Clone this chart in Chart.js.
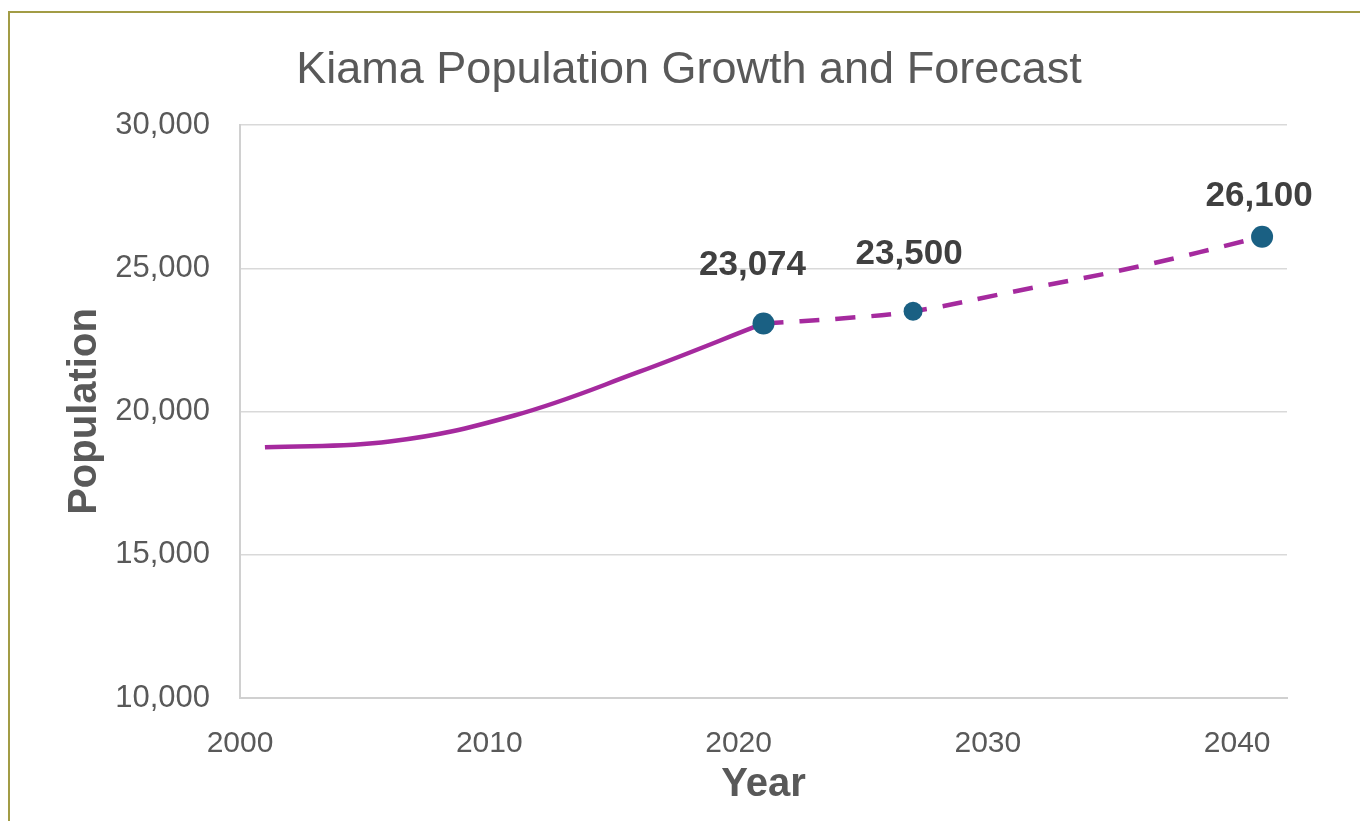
<!DOCTYPE html>
<html>
<head>
<meta charset="utf-8">
<script src="https://cdn.jsdelivr.net/npm/chart.js@4.4.0/dist/chart.umd.min.js"></script>
<style>
  html, body { margin: 0; padding: 0; background: #fff; overflow: hidden; }
  body { width: 1360px; height: 821px; position: relative; }
  #frame { position: absolute; left: 8px; top: 11px; width: 1400px; height: 900px;
           border-top: 2px solid #a29c45; border-left: 2px solid #a29c45; }
  #wrap { position: absolute; left: 10px; top: 13px; width: 1360px; height: 821px; }
</style>
</head>
<body>
<div id="frame"></div>
<div id="wrap"><canvas id="chart" width="1360" height="821"></canvas></div>
<script>
// census years (solid line)
const histYears = [2001, 2006, 2011, 2016, 2021];
const histPop = [18750, 18950, 19860, 21380, 23074];

// forecast (dashed line)
const fcYears = [2021, 2024, 2027, 2031, 2036, 2041];
const fcPop = [23074, 23240, 23500, 24180, 25050, 26100];

// labelled points
const markYears = [2021, 2027, 2041];
const markPop = [23074, 23500, 26100];

const xTicks = [2000, 2010, 2020, 2030, 2040];
const yTicks = [10000, 15000, 20000, 25000, 30000];

const PURPLE = '#a52a9e';
const TEAL = '#1a6083';
const GREY = '#595959';
const FONT = '"Liberation Sans", Arial, sans-serif';

const toXY = (xs, ys) => xs.map((x, i) => ({ x: x, y: ys[i] }));

// draws the value labels above the marker points
const valueLabels = {
    id: 'valueLabels',
    afterDatasetsDraw(chart, args, opts) {
        const ctx = chart.ctx;
        const meta = chart.getDatasetMeta(0);
        ctx.save();
        ctx.font = 'bold 35px ' + FONT;
        ctx.fillStyle = '#404040';
        ctx.textAlign = 'center';
        ctx.textBaseline = 'middle';
        meta.data.forEach((pt, i) => {
            const off = opts.offsets[i];
            ctx.fillText(markPop[i].toLocaleString('en-US'), pt.x + off[0], pt.y - off[1]);
        });
        ctx.restore();
    }
};

new Chart(document.getElementById('chart'), {
    type: 'scatter',
    data: {
        datasets: [
            {
                label: 'Points',
                data: toXY(markYears, markPop),
                showLine: false,
                pointRadius: [11, 9.5, 11],
                pointBackgroundColor: TEAL,
                pointBorderWidth: 0
            },
            {
                label: 'Population',
                data: toXY(histYears, histPop),
                showLine: true,
                borderColor: PURPLE,
                borderWidth: 4.5,
                tension: 0.4,
                pointRadius: 0
            },
            {
                label: 'Forecast',
                data: toXY(fcYears, fcPop),
                showLine: true,
                borderColor: PURPLE,
                borderWidth: 4.5,
                borderDash: [20, 16],
                tension: 0.4,
                pointRadius: 0
            }
        ]
    },
    options: {
        responsive: false,
        animation: false,
        devicePixelRatio: 1,
        layout: { padding: { left: 81, right: 83, top: 0, bottom: 0 } },
        plugins: {
            legend: { display: false },
            tooltip: { enabled: false },
            title: {
                display: true,
                text: 'Kiama Population Growth and Forecast',
                color: GREY,
                font: { family: FONT, size: 45, weight: 'normal', lineHeight: 1.2 },
                padding: { top: 31, bottom: 27 }
            },
            valueLabels: { offsets: [[-11, 58], [-4, 57], [-3, 40]] }
        },
        scales: {
            x: {
                type: 'linear',
                min: 2000,
                max: 2042,
                afterBuildTicks: (scale) => { scale.ticks = xTicks.map(v => ({ value: v })); },
                afterFit: (scale) => { scale.height = 136; },
                grid: { display: false },
                border: { display: true, color: '#d0d0d0', width: 2 },
                ticks: {
                    color: GREY,
                    padding: 20,
                    maxRotation: 0,
                    font: { family: FONT, size: 30 },
                    callback: (v) => String(v)
                },
                title: {
                    display: true,
                    text: 'Year',
                    color: GREY,
                    font: { family: FONT, size: 40, weight: 'bold', lineHeight: 1.2 },
                    padding: { top: 0, bottom: 25 }
                }
            },
            y: {
                min: 10000,
                max: 30000,
                afterBuildTicks: (scale) => { scale.ticks = yTicks.map(v => ({ value: v })); },
                afterFit: (scale) => { scale.width = 149; },
                grid: { color: '#d9d9d9', lineWidth: 1.5, drawTicks: false },
                border: { display: true, color: '#d0d0d0', width: 2 },
                ticks: {
                    color: GREY,
                    padding: 30,
                    font: { family: FONT, size: 31 },
                    callback: (v) => v.toLocaleString('en-US')
                },
                title: {
                    display: true,
                    text: 'Population',
                    color: GREY,
                    font: { family: FONT, size: 40, weight: 'bold', lineHeight: 1.2 },
                    padding: { top: -30, bottom: 0 }
                }
            }
        }
    },
    plugins: [valueLabels]
});
</script>
</body>
</html>
